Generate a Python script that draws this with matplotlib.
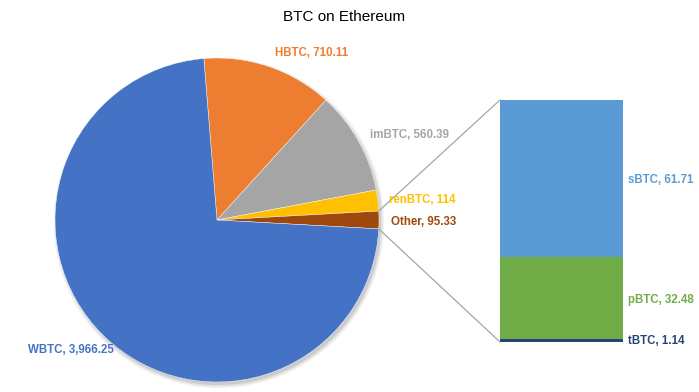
import matplotlib
matplotlib.use("Agg")
import matplotlib.pyplot as plt
import numpy as np
from matplotlib.patches import ConnectionPatch, Circle

plt.rcParams.update({"font.family": ["Liberation Sans", "DejaVu Sans"]})

pie_labels = ["HBTC", "imBTC", "renBTC", "Other", "WBTC"]
pie_values = [710.11, 560.39, 114, 95.33, 3966.25]
pie_colors = ["#ED7D31", "#A5A5A5", "#FFC000", "#9E480E", "#4472C4"]

bar_labels = ["tBTC", "pBTC", "sBTC"]
bar_values = [1.14, 32.48, 61.71]
bar_colors = ["#264478", "#70AD47", "#5B9BD5"]

W, H = 699, 392
fig = plt.figure(figsize=(W / 100, H / 100), dpi=100)


def px_axes(x0, y0, x1, y1):
    # pixel box (top-left origin) -> figure fraction axes
    return fig.add_axes([x0 / W, 1 - y1 / H, (x1 - x0) / W, (y1 - y0) / H])


total = sum(pie_values)
other_frac = pie_values[3] / total
start = 360 * (other_frac / 2 + sum(pie_values[:3]) / total)

ax_pie = px_axes(55, 58, 379, 382)
# soft drop shadow behind the pie
for r, a in [(1.02, 0.05), (1.01, 0.07), (1.0, 0.09)]:
    ax_pie.add_patch(Circle((0.012, -0.018), r, color="black", alpha=a, lw=0, clip_on=False))
ax_pie.pie(pie_values, colors=pie_colors, startangle=start, counterclock=False,
           wedgeprops=dict(edgecolor="white", linewidth=0.3))
ax_pie.set_xlim(-1, 1)
ax_pie.set_ylim(-1, 1)
ax_pie.set_aspect("equal")
ax_pie.axis("off")

ax_bar = px_axes(500, 100, 623, 342)
bottom = 0
for lab, val, col in zip(bar_labels, bar_values, bar_colors):
    ax_bar.bar(0, val, width=1, bottom=bottom, color=col)
    bottom += val
ax_bar.set_xlim(-0.5, 0.5)
ax_bar.set_ylim(0, sum(bar_values))
ax_bar.axis("off")

# connector lines from the "Other" slice to the bar
half = np.deg2rad(360 * other_frac / 2)
for sgn, yb in [(1, sum(bar_values)), (-1, 0)]:
    con = ConnectionPatch(xyA=(np.cos(half), sgn * np.sin(half)), coordsA=ax_pie.transData,
                          xyB=(-0.5, yb), coordsB=ax_bar.transData,
                          color="#A5A5A5", lw=0.9)
    fig.add_artist(con)

fig.text(344 / W, 1 - 17 / H, "BTC on Ethereum", ha="center", va="center", fontsize=11, color="black")

label_pos = {
    "HBTC": (275, 53), "imBTC": (370, 135), "renBTC": (389, 200),
    "Other": (391, 222), "WBTC": (28, 350),
}
for lab, val, col in zip(pie_labels, pie_values, pie_colors):
    x, y = label_pos[lab]
    txt = f"{val:,.2f}" if val != int(val) else f"{int(val):,}"
    fig.text(x / W, 1 - y / H, f"{lab}, {txt}", ha="left", va="center",
             fontsize=8.3, fontweight="bold", color=col)

bar_pos = {"sBTC": 180, "pBTC": 300, "tBTC": 341}
for lab, val, col in zip(bar_labels, bar_values, bar_colors):
    fig.text(628 / W, 1 - bar_pos[lab] / H, f"{lab}, {val:.2f}", ha="left", va="center",
             fontsize=8.3, fontweight="bold", color=col)

fig.savefig("out.png", dpi=100)
